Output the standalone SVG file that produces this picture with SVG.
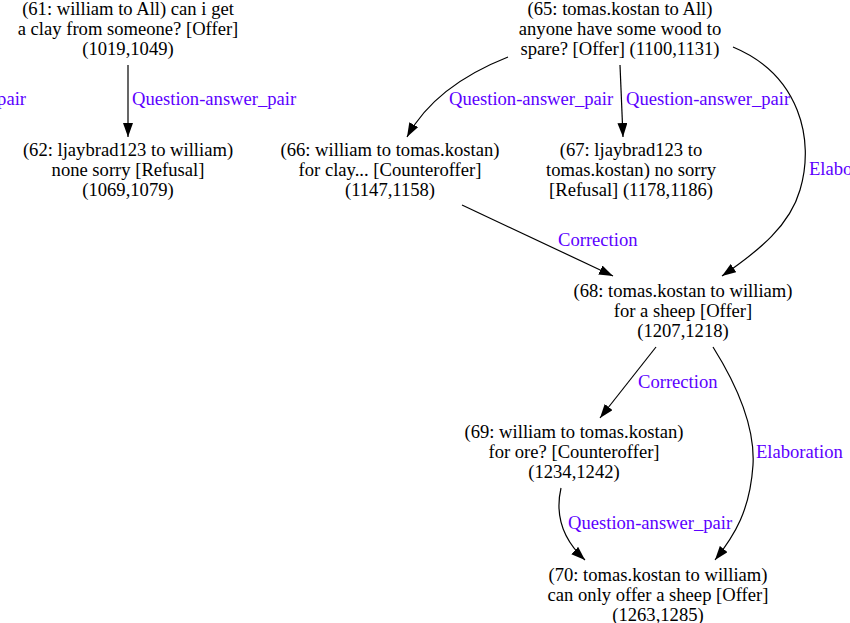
<svg xmlns="http://www.w3.org/2000/svg" width="850" height="623" viewBox="0 0 850 623">
<style>
  .n text { font-family: "Liberation Serif", "Times New Roman", serif; font-size: 18.6px; fill: #000; text-anchor: middle; }
  .e path { fill: none; stroke: #000; stroke-width: 1.2; marker-end: url(#ah); }
  .lbl { font-family: "Liberation Serif", "Times New Roman", serif; font-size: 18.6px; fill: #5c00ff; }
</style>
<defs>
  <marker id="ah" markerUnits="userSpaceOnUse" markerWidth="15" markerHeight="11" refX="14" refY="5" orient="auto">
    <path d="M0,0 L14,5 L0,10 z" fill="#000"/>
  </marker>
</defs>
<rect width="850" height="623" fill="#fff"/>
<g id="connectors" class="e">
  <path d="M128,65 L128,137"/>
  <path d="M508,57 C470,72 430,95 407,137"/>
  <path d="M620,65 L623,137"/>
  <path d="M733,47 C800,75 815,140 800,190 C790,225 760,250 722,276"/>
  <path d="M462,205 L613,276"/>
  <path d="M656,347 L600,418"/>
  <path d="M713,347 C740,390 755,430 753,465 C750,510 735,535 715,560"/>
  <path d="M561,488 C556,510 558,535 585,560"/>
  <text class="lbl" x="26" y="105" text-anchor="end">pair</text>
  <text class="lbl" x="132" y="105">Question-answer_pair</text>
  <text class="lbl" x="449" y="105">Question-answer_pair</text>
  <text class="lbl" x="626" y="105">Question-answer_pair</text>
  <text class="lbl" x="809" y="175">Elaboration</text>
  <text class="lbl" x="558" y="246">Correction</text>
  <text class="lbl" x="638" y="388">Correction</text>
  <text class="lbl" x="756" y="458">Elaboration</text>
  <text class="lbl" x="568" y="529">Question-answer_pair</text>
</g>
<g id="n61" class="n"><text x="128" y="15">(61: william to All) can i get</text><text x="128" y="35">a clay from someone? [Offer]</text><text x="128" y="55">(1019,1049)</text></g>
<g id="n62" class="n"><text x="128" y="156">(62: ljaybrad123 to william)</text><text x="128" y="176">none sorry [Refusal]</text><text x="128" y="196">(1069,1079)</text></g>
<g id="n65" class="n"><text x="620" y="15">(65: tomas.kostan to All)</text><text x="620" y="35">anyone have some wood to</text><text x="620" y="55">spare? [Offer] (1100,1131)</text></g>
<g id="n66" class="n"><text x="390" y="156">(66: william to tomas.kostan)</text><text x="390" y="176">for clay... [Counteroffer]</text><text x="390" y="196">(1147,1158)</text></g>
<g id="n67" class="n"><text x="631" y="156">(67: ljaybrad123 to</text><text x="631" y="176">tomas.kostan) no sorry</text><text x="631" y="196">[Refusal] (1178,1186)</text></g>
<g id="n68" class="n"><text x="683" y="297">(68: tomas.kostan to william)</text><text x="683" y="317">for a sheep [Offer]</text><text x="683" y="337">(1207,1218)</text></g>
<g id="n69" class="n"><text x="574" y="438">(69: william to tomas.kostan)</text><text x="574" y="458">for ore? [Counteroffer]</text><text x="574" y="478">(1234,1242)</text></g>
<g id="n70" class="n"><text x="658" y="581">(70: tomas.kostan to william)</text><text x="658" y="601">can only offer a sheep [Offer]</text><text x="658" y="621">(1263,1285)</text></g>
</svg>
